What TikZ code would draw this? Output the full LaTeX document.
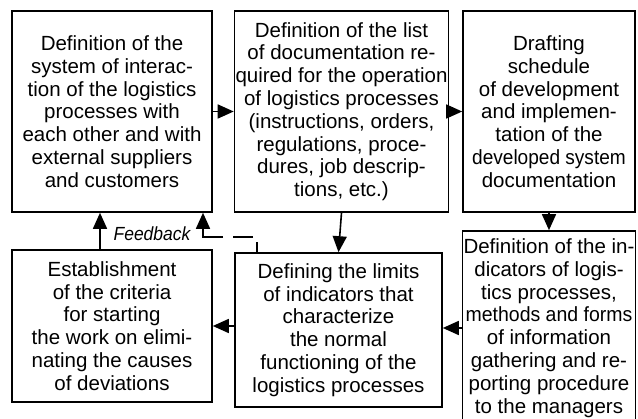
\documentclass[tikz,border=0pt]{standalone}
\usepackage{fontspec}
\setmainfont{Liberation Sans}
\usepackage{graphicx}
\usetikzlibrary{positioning,calc,arrows.meta}

\begin{document}
\begin{tikzpicture}[x=1pt, y=-1pt,
    box/.style={rectangle, draw, line width=1.6pt, align=center, inner sep=1pt,
        font=\fontsize{20.5}{22.8}\selectfont},
    arr/.style={draw, line width=1.6pt, -{Triangle[length=16pt, width=14pt]}}]
    \useasboundingbox (0,0) rectangle (638,419);

    \node[box, minimum width=200pt, minimum height=201pt] (system) at (112,111.5) {Definition of the\\system of interac-\\tion of the logistics\\processes with\\each other and with\\external suppliers\\and customers};
    \node[box, minimum width=213pt, minimum height=201pt] (doclist) at (341.5,111.5) {Definition of the list\\of documentation re-\\quired for the operation\\of logistics processes\\(instructions, orders,\\regulations, proce-\\dures, job descrip-\\tions, etc.)};
    \node[box, minimum width=172pt, minimum height=201pt] (schedule) at (549,111.5) {Drafting\\schedule\\of development\\and implemen-\\tation of the\\\scalebox{0.93}[1]{developed system}\\documentation};

    \node[box, minimum width=172pt, minimum height=194pt] (indicators) at (549,328) {Definition of the in-\\dicators of logis-\\tics processes,\\\scalebox{0.95}[1]{methods and forms}\\of information\\gathering and re-\\porting procedure\\to the managers};
    \node[box, minimum width=207pt, minimum height=154pt] (limits) at (338.5,330) {Defining the limits\\of indicators that\\characterize\\the normal\\functioning of the\\logistics processes};
    \node[box, minimum width=200pt, minimum height=152pt] (criteria) at (112,326) {Establishment\\of the criteria\\for starting\\the work on elimi-\\nating the causes\\of deviations};

    \node[font=\fontsize{19}{20}\itshape] (fblabel) at (152,234) {\scalebox{0.92}[1]{Feedback}};

    \draw[arr] (system) -- (doclist);
    \draw[arr] (doclist) -- (schedule);
    \draw[arr] (schedule) -- (indicators);
    \draw[arr] (doclist.south) -- (limits.north);
    \draw[arr] (indicators.west) -- (indicators.west -| limits.east);
    \draw[arr] (limits.west |- criteria.east) -- (criteria.east);
    \draw[arr] ([xshift=-12pt]criteria.north) -- ([xshift=-12pt]system.south);
    \draw[arr, dash pattern=on 10pt off 9pt on 20pt off 10pt on 80pt]
        ([xshift=-81.5pt]limits.north) -- ++(0,-15) -| ([xshift=91pt]system.south);
\end{tikzpicture}
\end{document}
